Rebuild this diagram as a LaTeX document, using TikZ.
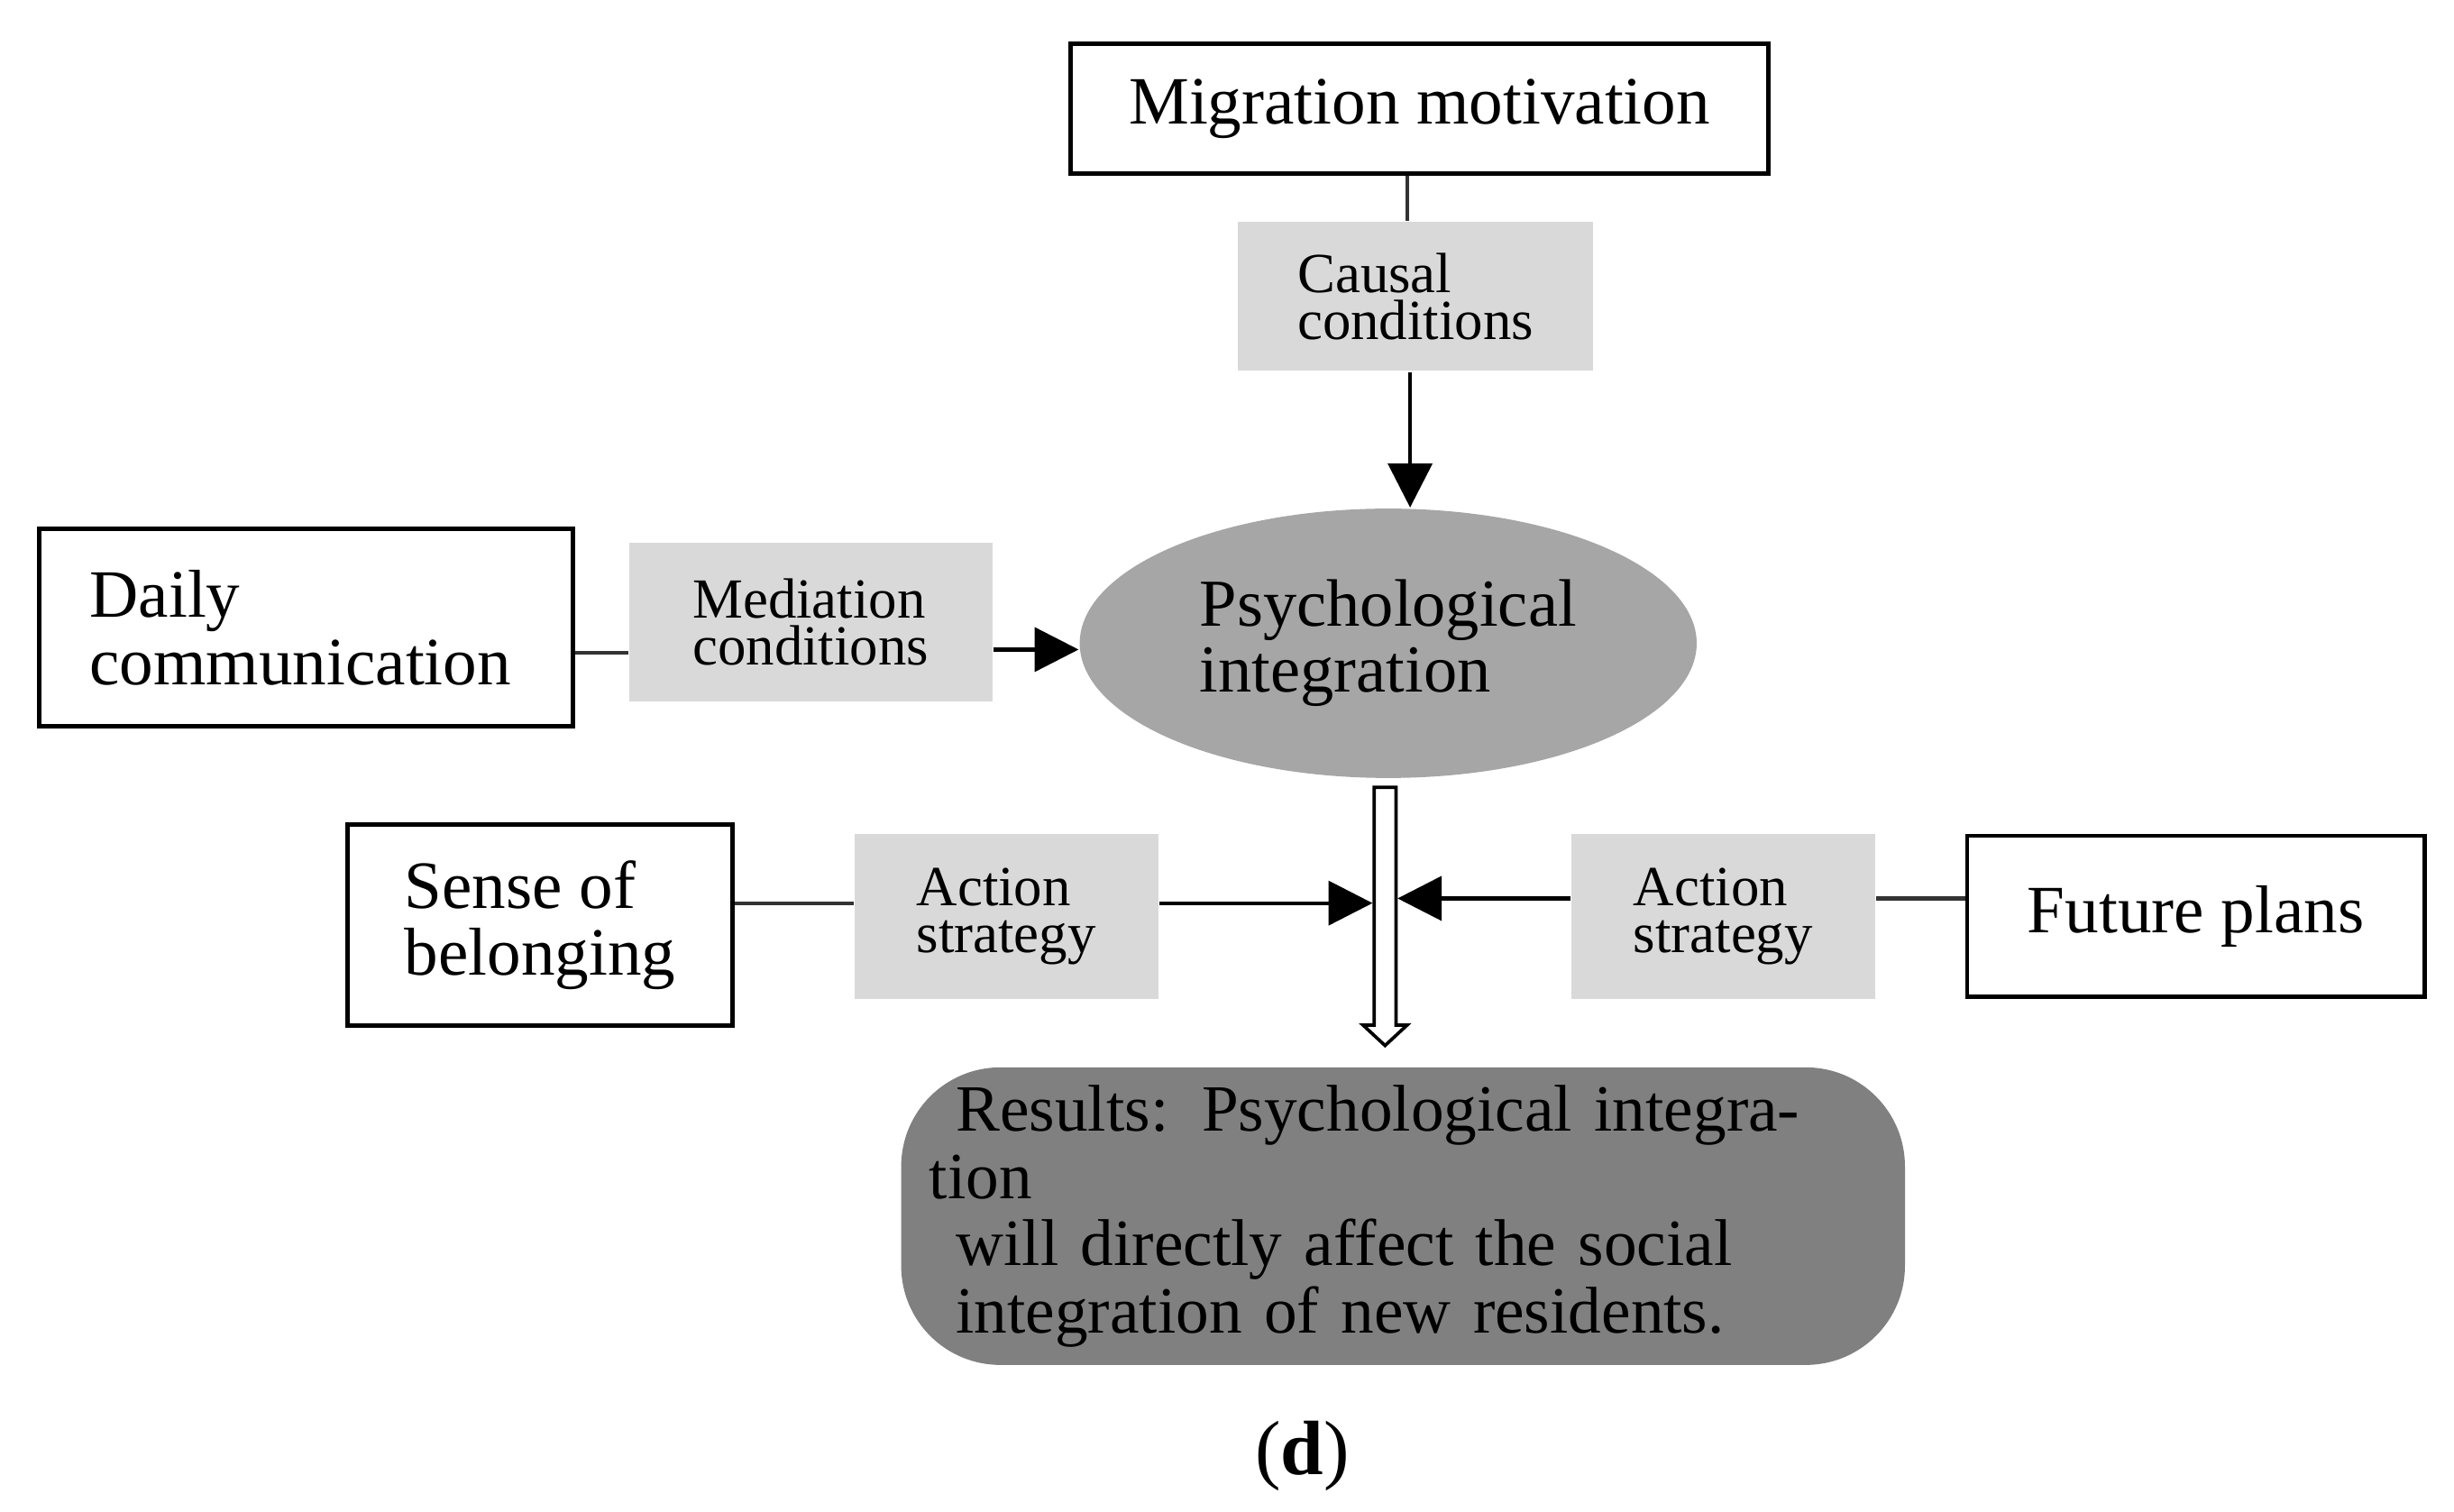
\documentclass[tikz,border=0pt]{standalone}
\usepackage{fontspec}
\setmainfont{Liberation Serif}
\usetikzlibrary{arrows.meta,shapes.geometric}
\begin{document}
\begin{tikzpicture}[x=0.01cm,y=-0.01cm,
  box/.style={draw,line width=0.8pt,inner sep=0pt,align=left,font=\fontsize{12.3}{12.2}\selectfont},
  gbox/.style={fill=black!15,inner sep=0pt,align=left,font=\fontsize{10.3}{8.6}\selectfont},
  arr/.style={-{Triangle[length=8pt,width=8pt]},line width=0.7pt},
  ln/.style={line width=0.7pt,draw=black!80}]
\useasboundingbox (0,0) rectangle (1568,966);
\node[box,minimum width=4.46cm,minimum height=0.83cm] (mm) at (907,69.5) {Migration motivation};
\node[gbox,minimum width=2.27cm,minimum height=0.95cm] (cc) at (904.5,189.5) {Causal\\conditions};
\node[ellipse,fill=black!35,minimum width=3.94cm,minimum height=1.72cm,inner sep=0pt,align=left,font=\fontsize{12.2}{12}\selectfont] (pi) at (887,411) {Psychological\\integration};
\node[box,minimum width=3.41cm,minimum height=1.26cm] (dc) at (195.5,401) {\hspace*{0.1cm}Daily\hspace*{1.9cm}\\\hspace*{0.1cm}communication};
\node[gbox,minimum width=2.32cm,minimum height=1.01cm] (mc) at (518,397.5) {Mediation\\conditions};
\node[box,minimum width=2.46cm,minimum height=1.28cm] (sb) at (345,591) {Sense of\\belonging};
\node[gbox,minimum width=1.94cm,minimum height=1.05cm] (a1) at (643,585.5) {Action\\strategy};
\node[gbox,minimum width=1.94cm,minimum height=1.05cm] (a2) at (1101,585.5) {Action\\strategy};
\node[box,minimum width=2.92cm,minimum height=1.03cm] (fp) at (1403,585.5) {Future plans};
\node[rounded corners=18pt,fill=black!50,minimum width=6.41cm,minimum height=1.9cm,inner sep=0pt,align=left,text width=6.05cm,font=\fontsize{12}{12.2}\selectfont] (rs) at (896.5,777) {\hspace*{0.17cm}Results: Psychological integration\\\hspace*{0.17cm}will directly affect the social\\\hspace*{0.17cm}integration of new residents.};
\node[font=\fontsize{14}{16}\selectfont] (lab) at (832,930) {(\textbf{d})};
% connectors
\draw[ln] (mm.south -| 899,0) -- (cc.north -| 899,0);
\draw[arr] (cc.south -| 901,0) -- (pi.north -| 901,0);
\draw[ln] (dc.east |- 0,417) -- (mc.west |- 0,417);
\draw[arr] (mc.east |- 0,415) -- (pi.west |- 0,415);
% hollow arrow
\draw[line width=0.6pt,fill=white] (878,503) -- (892,503) -- (892,655) -- (899,655) -- (885,668) -- (871,655) -- (878,655) -- cycle;
\coordinate (tl) at (877,577);
\coordinate (tr) at (893,574);
\draw[ln] (sb.east |- 0,577) -- (a1.west |- 0,577);
\draw[arr] (a1.east |- 0,577) -- (tl);
\draw[ln] (fp.west |- 0,574) -- (a2.east |- 0,574);
\draw[arr] (a2.west |- 0,574) -- (tr);
\end{tikzpicture}
\end{document}
